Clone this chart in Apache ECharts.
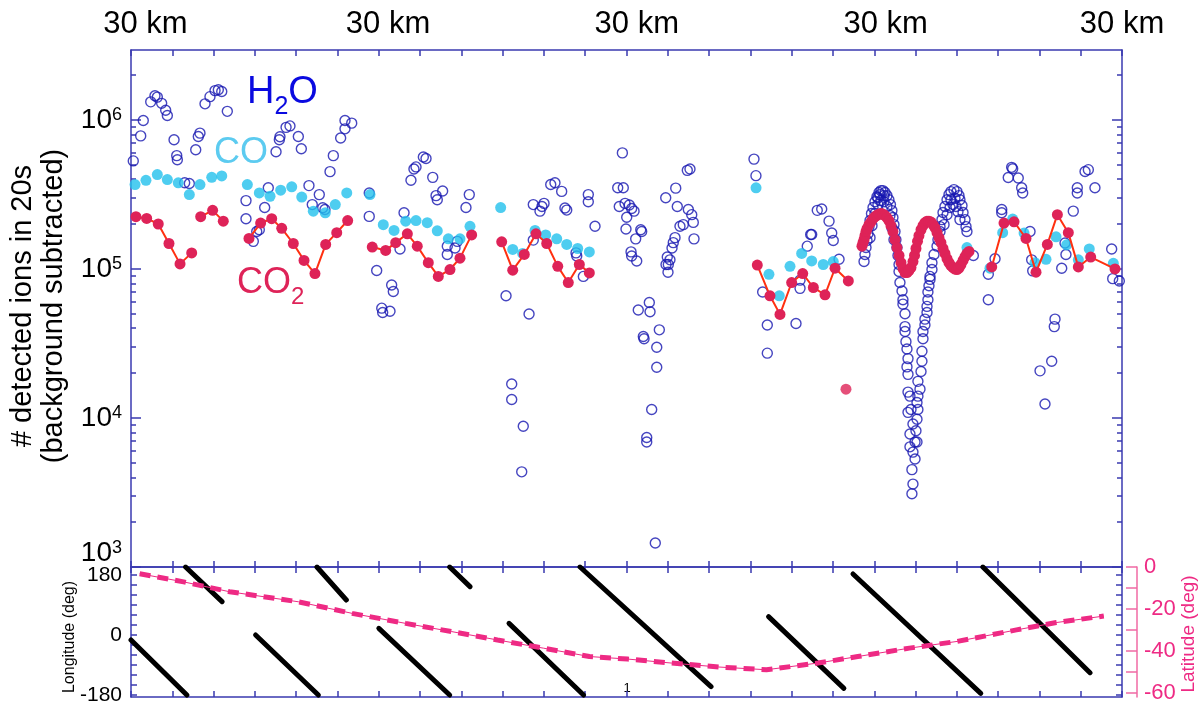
<!DOCTYPE html>
<html><head><meta charset="utf-8">
<script src="https://cdn.jsdelivr.net/npm/echarts@6/dist/echarts.min.js"></script>
<style>html,body{margin:0;padding:0;background:#fff}#c{width:1202px;height:706px}</style>
</head><body><div id="c"></div>
<script>
// ---------- DATA (x = hours, y = detected ions / degrees) ----------
const topLabelHours = [1.4, 24.9, 49.0, 73.1, 96];
const topLabelText = '30 km';
const decadeTicks = [1e3, 1e4, 1e5, 1e6];
const minorLogTicks = [2e3,3e3,4e3,5e3,6e3,7e3,8e3,9e3,2e4,3e4,4e4,5e4,6e4,7e4,8e4,9e4,2e5,3e5,4e5,5e5,6e5,7e5,8e5,9e5,2e6];
const hourTicks = [0,4,8,12,16,20,24,28,32,36,40,44,48,52,56,60,64,68,72,76,80,84,88,92,96];
const lonTicks = [-180,-150,-120,-90,-60,-30,0,30,60,90,120,150,180];
const lonLabels = [-180, 0, 180];
const latTicks = [0,-10,-20,-30,-40,-50,-60];
const latLabels = [0,-20,-40,-60];

const h2oPass1 = [[0.22,5.3e5],[0.94,7.8e5],[1.19,9.9e5],[1.91,1.32e6],[2.32,1.45e6],[2.55,1.42e6],[2.97,1.29e6],[3.36,1.16e6],[3.52,1.07e6],[4.17,7.35e5],[4.43,5.75e5],[4.49,5.4e5],[5.2,3.78e5],[5.65,3.74e5],[6.27,6.3e5],[6.52,7.73e5],[6.68,8.14e5],[7.17,1.28e6],[7.65,1.43e6],[8.14,1.57e6],[8.46,1.59e6],[8.79,1.55e6],[9.33,1.14e6]];
const h2oPass2 = [[11.14,2.87e5],[11.14,2.17e5],[11.85,1.53e5],[12.18,1.78e5],[12.43,1.83e5],[12.95,2.58e5],[13.3,3.5e5],[14.05,6.1e5],[14.37,7.35e5],[14.43,7.7e5],[15.02,8.9e5],[15.4,9.1e5],[16.21,7.73e5],[16.5,6.4e5],[17.24,3.62e5],[17.56,2.7e5],[18.24,3.15e5],[18.57,2.57e5],[18.79,2.5e5],[19.28,4.49e5],[19.6,5.75e5],[20.31,7.55e5],[20.73,8.7e5],[20.73,9.9e5],[21.38,9.5e5]];
const h2oPass3 = [[23.08,3.23e5],[23.08,2.25e5],[23.8,9.75e4],[24.29,5.45e4],[24.38,5.1e4],[25.09,5.2e4],[25.25,7.8e4],[25.41,7.05e4],[26.06,1.36e5],[26.45,2.38e5],[27.12,3.93e5],[27.41,4.68e5],[27.61,4.83e5],[28.32,5.63e5],[28.58,5.5e5],[29.23,4.11e5],[29.55,3.1e5],[29.67,2.91e5],[30.19,3.33e5],[30.64,1.42e5],[30.64,1.25e5],[31.39,1.38e5],[31.61,1.53e5],[32.45,2.58e5],[32.77,3.15e5]];
const h2oPass4 = [[36.33,6.6e4],[36.88,1.69e4],[36.88,1.33e4],[38.0,8.8e3],[37.85,4.35e3],[38.56,4.98e4],[38.97,2.7e5],[38.97,1.56e5],[39.62,2.44e5],[39.81,2.62e5],[40.01,2.75e5],[40.66,3.68e5],[41.07,3.78e5],[41.72,3.31e5],[42.04,2.56e5],[42.21,2.48e5],[43.18,1.22e5],[43.11,1.28e5],[43.82,8.9e4],[44.3,3.15e5],[44.3,2.82e5],[44.95,1.93e5]];
const h2oPass5 = [[47.6,6.0e5],[47.15,3.5e5],[47.69,3.5e5],[47.3,2.62e5],[47.86,2.75e5],[48.27,2.68e5],[48.5,2.54e5],[48.73,2.44e5],[48.02,2.22e5],[47.95,1.85e5],[49.38,1.83e5],[49.47,1.78e5],[48.89,1.59e5],[48.44,1.3e5],[48.5,1.22e5],[48.99,1.13e5],[50.21,5.95e4],[50.28,5.16e4],[49.14,5.3e4],[49.63,3.52e4],[49.7,3.4e4],[51.18,3.9e4],[50.93,2.98e4],[50.93,2.19e4],[50.44,1.14e4],[49.96,7.4e3],[49.96,6.9e3],[50.79,1.45e3],[52.77,3.48e5],[51.8,3.0e5],[52.92,2.62e5],[53.89,4.58e5],[54.15,4.68e5],[53.99,2.5e5],[54.32,2.31e5],[54.47,2.05e5],[53.18,1.93e5],[53.5,1.98e5],[54.54,1.59e5],[52.7,1.62e5],[52.53,1.5e5],[52.41,1.38e5],[51.95,1.2e5],[52.21,1.15e5],[52.05,1.07e5],[51.83,1.07e5],[52.02,9.5e4]];
const h2oPass6 = [[60.35,5.45e5],[60.54,4.22e5],[61.19,7.0e4],[61.64,4.2e4],[61.64,2.72e4],[64.42,4.3e4],[64.81,8.4e4],[64.81,7.4e4],[65.51,1.42e5],[65.84,1.7e5],[65.94,1.7e5],[66.48,2.47e5],[66.91,2.52e5],[67.62,2.09e5],[67.88,1.74e5],[68.03,1.55e5],[68.59,1.16e5]];
const h2oPass7 = [[71.01,1.12e5],[71.1,1.25e5],[71.2,1.39e5],[71.3,1.55e5],[71.39,1.72e5],[71.49,1.92e5],[71.59,2.11e5],[71.73,2.35e5],[71.88,2.58e5],[72.07,2.82e5],[72.26,3.05e5],[72.46,3.25e5],[72.65,3.35e5],[72.84,3.35e5],[73.04,3.25e5],[73.23,3.1e5],[73.42,2.91e5],[73.57,2.7e5],[73.71,2.46e5],[73.81,2.21e5],[73.91,1.98e5],[74.01,1.78e5],[74.1,1.57e5],[74.2,1.39e5],[74.3,1.23e5],[74.4,1.07e5],
 [71.59,1.62e5],[71.78,1.95e5],[72.07,2.35e5],[72.36,2.7e5],[72.65,2.87e5],[72.94,2.82e5],[73.23,2.62e5],[73.52,2.28e5],[73.71,1.89e5],[73.91,1.57e5],[72.55,3.15e5],[72.94,3.1e5],[72.36,3.0e5],
 [74.4,9.6e4],[74.49,8.1e4],[74.69,7.1e4],[74.78,6.2e4],[74.78,5.8e4],[74.98,5.0e4],[74.98,4.1e4],[74.98,3.8e4],[75.07,3.25e4],[75.17,2.9e4],[75.27,2.5e4],[75.17,2.2e4],[75.27,1.96e4],[75.27,1.49e4],[75.46,1.4e4],[75.56,1.14e4],[75.27,1.09e4],[75.75,9.1e3],[75.46,7.8e3],[75.46,6.4e3],[75.95,6.9e3],[75.75,5.9e3],[75.95,5.3e3],[75.65,4.5e3],[75.75,3.6e3],[75.65,3.1e3],
 [76.14,6.9e3],[76.04,8.2e3],[76.14,9.8e3],[76.23,1.14e4],[76.14,1.27e4],[76.23,1.4e4],[76.43,1.56e4],[76.23,1.76e4],[76.53,2.05e4],[76.62,2.4e4],[76.62,2.8e4],[76.72,3.4e4],[76.72,3.8e4],[76.91,4.2e4],[76.91,4.6e4],[77.11,5.1e4],[77.11,5.6e4],[77.2,6.2e4],[77.2,7.0e4],[77.3,7.7e4],[77.4,8.5e4],[77.4,8.9e4],[77.59,9.9e4],[77.59,1.1e5],[77.79,1.25e5],[78.08,1.42e5],[78.17,1.57e5],[78.37,1.78e5],[78.37,1.92e5],[78.56,2.14e5],[78.66,2.39e5],[78.85,2.62e5],[79.05,2.91e5],[79.24,3.15e5],[79.43,3.3e5],[79.72,3.4e5],[80.01,3.3e5],[80.21,3.1e5],[80.3,2.91e5],[80.5,2.66e5],[80.6,2.39e5],[80.79,2.14e5],[80.89,1.92e5],[80.98,1.78e5],
 [78.76,1.98e5],[79.05,2.31e5],[79.34,2.58e5],[79.63,2.7e5],[79.92,2.62e5],[80.11,2.42e5],[80.3,2.14e5],[79.43,2.91e5],[79.82,2.98e5]];
const h2oPass8 = [[81.6,1.23e5],[83.05,9.2e4],[83.05,6.2e4],[83.7,1.17e5],[84.35,2.5e5],[84.35,2.38e5],[84.98,4.1e5],[85.31,4.8e5],[85.41,4.7e5],[85.95,4.07e5],[86.28,3.5e5],[86.38,3.23e5],[87.09,1.78e5],[87.25,1.15e5],[87.35,9.7e4],[89.51,4.6e4],[89.44,4.1e4],[89.19,2.4e4],[88.06,2.07e4],[88.54,1.24e4],[90.16,1.01e5],[90.57,1.25e5],[90.48,1.49e5],[91.28,2.44e5],[91.67,3.5e5],[91.67,3.23e5],[92.42,4.5e5],[92.74,4.63e5],[93.38,3.5e5],[95.0,1.36e5],[95.1,8.6e4],[95.74,8.3e4]];

const coValues = [[0.39,3.68e5],[1.45,3.93e5],[2.55,4.29e5],[3.52,3.97e5],[4.58,3.78e5],[5.65,3.15e5],[6.68,3.68e5],[7.82,4.11e5],[8.79,4.2e5],
 [11.27,3.68e5],[12.43,3.23e5],[13.47,3.07e5],[14.5,3.37e5],[15.57,3.55e5],[16.54,3.03e5],[17.66,2.44e5],[18.82,2.38e5],[19.79,2.7e5],[20.9,3.23e5],
 [23.15,3.15e5],[24.44,1.98e5],[25.48,1.81e5],[26.61,2.09e5],[27.61,2.11e5],[28.7,2.04e5],[29.67,1.8e5],[30.74,1.59e5],[31.87,1.59e5],[32.84,1.93e5],
 [35.81,2.58e5],[36.98,1.35e5],[37.94,1.27e5],[39.14,1.81e5],[40.17,1.69e5],[41.24,1.59e5],[42.21,1.46e5],[43.27,1.37e5],[44.4,1.3e5],
 [60.55,3.5e5],[61.8,9.2e4],[62.8,6.6e4],[63.84,1.04e5],[64.97,1.27e5],[65.94,1.13e5],[67.06,1.07e5],[68.03,1.12e5],
 [80.98,1.39e5],
 [83.21,1.01e5],[84.44,1.75e5],[85.41,2.16e5],[86.51,1.74e5],[87.57,1.1e5],[88.64,1.16e5],[89.61,1.64e5],[90.64,1.45e5],[91.77,1.15e5],[92.83,1.36e5],[95.16,1.09e5]];

const co2Pass1a = [[0.48,2.24e5],[1.52,2.18e5],[2.64,2.0e5],[3.68,1.48e5],[4.75,1.08e5],[5.88,1.28e5]];
const co2Pass1b = [[6.75,2.24e5],[7.91,2.47e5],[8.94,2.09e5]];
const co2Pass2 = [[11.43,1.6e5],[12.56,2.03e5],[13.63,2.17e5],[14.6,1.87e5],[15.72,1.48e5],[16.76,1.14e5],[17.82,9.3e4],[18.86,1.46e5],[19.93,1.75e5],[20.99,2.11e5]];
const co2Pass3 = [[23.37,1.4e5],[24.67,1.33e5],[25.64,1.5e5],[26.77,1.72e5],[27.73,1.42e5],[28.8,1.1e5],[29.77,8.9e4],[30.9,9.9e4],[31.87,1.18e5],[33.0,1.69e5]];
const co2Pass4 = [[35.91,1.52e5],[36.98,9.8e4],[38.1,1.25e5],[39.23,1.72e5],[40.27,1.48e5],[41.34,1.04e5],[42.36,8.1e4],[43.43,1.07e5],[44.4,9.4e4]];
const co2Pass6 = [[60.67,1.06e5],[61.9,6.6e4],[62.87,4.95e4],[64.0,8.1e4],[65.07,9.3e4],[66.1,7.5e4],[67.23,6.7e4],[68.2,1.01e5],[69.49,8.3e4]];
const co2Pass7 = [[70.81,1.42e5],[70.91,1.5e5],[71.01,1.57e5],[71.1,1.67e5],[71.2,1.78e5],[71.3,1.86e5],[71.49,1.98e5],[71.69,2.07e5],[71.88,2.17e5],[72.07,2.24e5],[72.26,2.29e5],[72.46,2.33e5],[72.65,2.35e5],[72.84,2.33e5],[73.04,2.28e5],[73.23,2.21e5],[73.42,2.11e5],[73.62,1.95e5],[73.81,1.78e5],[74.01,1.57e5],[74.2,1.39e5],[74.4,1.23e5],[74.59,1.1e5],[74.78,1.005e5],[74.98,9.45e4],[75.17,9.45e4],[75.36,9.75e4],[75.56,1.02e5],[75.75,1.12e5],[75.9,1.23e5],[76.04,1.37e5],[76.19,1.53e5],[76.33,1.67e5],[76.53,1.83e5],[76.72,1.95e5],[76.91,2.04e5],[77.11,2.09e5],[77.3,2.09e5],[77.5,2.06e5],[77.69,1.98e5],[77.88,1.89e5],[78.08,1.75e5],[78.27,1.62e5],[78.46,1.5e5],[78.66,1.37e5],[78.85,1.27e5],[79.05,1.17e5],[79.24,1.1e5],[79.43,1.05e5],[79.63,1.02e5],[79.82,9.97e4],[80.01,9.9e4],[80.21,1.01e5],[80.4,1.07e5],[80.6,1.14e5],[80.79,1.21e5],[80.98,1.27e5],[81.18,1.31e5]];
const co2Pass8 = [[83.38,1.03e5],[84.57,2.03e5],[85.54,2.07e5],[86.7,1.6e5],[87.67,9.5e4],[88.77,1.46e5],[89.74,2.31e5],[90.8,1.75e5],[91.77,1.03e5],[92.97,1.2e5],[95.32,1.0e5]];
const co2Isolated = [[69.26,1.56e4]];

const lonPasses = [
 [[0,-15],[5.41,-180]], [[5.29,204],[8.82,100]], [[12.07,0],[18.15,-180]], [[18.01,204],[20.86,105]],
 [[24.01,20],[30.87,-180]], [[30.87,204],[32.84,145]], [[36.62,35],[43.84,-180]], [[43.5,204],[56.19,-155]],
 [[61.76,55],[69.06,-160]], [[69.94,183],[82.32,-175]], [[82.52,204],[92.9,-113]]
];
const latitudeValues = [[0.84,-3.2],[5.1,-7.1],[9.55,-11.8],[16.23,-16.6],[21.41,-22.1],[26.61,-26.9],[31.06,-30.8],[35.5,-34.8],[39.95,-38.7],[44.41,-42.7],[48.11,-43.9],[52.34,-45.8],[56.95,-47.7],[61.56,-49.0],[66.55,-45.8],[70.4,-42.7],[75.4,-38.7],[80.02,-35.5],[85.78,-30.0],[89.63,-26.5],[94.24,-23.4]];

// ---------- STYLE ----------
const FONT = '"Liberation Sans", Arial, sans-serif';
const AXIS_BLUE = '#3a3ab0';
const PINK = '#ee2a84';
const PINK_AXIS = '#f06aa4';
const H2O_C = '#1616b0';
const CO_C = '#22c0ec';
const CO2_C = '#de2358';
const CO2_LINE = '#ff3010';

const chart = echarts.init(document.getElementById('c'), null, {renderer: 'canvas'});

function hourAxis(gridIndex, position, showLabels) {
  return {
    type: 'value', gridIndex, position, min: 0, max: 96,
    axisLine: {show: true, onZero: false, lineStyle: {color: AXIS_BLUE, width: 1.5}},
    axisTick: {show: true, inside: true, length: 6, customValues: hourTicks, lineStyle: {color: AXIS_BLUE, width: 1.5}},
    splitLine: {show: false},
    axisLabel: showLabels ? {
      show: true, customValues: topLabelHours, formatter: () => topLabelText,
      color: '#000', fontSize: 31, fontFamily: FONT, margin: 10
    } : {show: false}
  };
}
function logAxis(position, major, show) {
  return {
    type: 'log', gridIndex: 0, position, min: 1000, max: 2.94e6, logBase: 10,
    axisLine: {show: show, onZero: false, lineStyle: {color: AXIS_BLUE, width: 1.5}},
    axisTick: {show: true, inside: true, length: major ? 10 : 5, customValues: major ? decadeTicks : minorLogTicks,
      lineStyle: {color: AXIS_BLUE, width: 1.5}},
    splitLine: {show: false},
    axisLabel: (major && position === 'left') ? {
      show: true, customValues: decadeTicks, margin: 9, verticalAlignMinLabel: 'bottom',
      formatter: v => '{b|10}{s|' + Math.round(Math.log10(v)) + '}',
      rich: {b: {fontSize: 28, fontFamily: FONT, color: '#000'}, s: {fontSize: 18, fontFamily: FONT, color: '#000', verticalAlign: 'top'}}
    } : {show: false}
  };
}

const series = [];
const h2oAll = [].concat(h2oPass1, h2oPass2, h2oPass3, h2oPass4, h2oPass5, h2oPass6, h2oPass7, h2oPass8);
series.push({type: 'scatter', name: 'H2O', xAxisIndex: 0, yAxisIndex: 0, data: h2oAll, symbol: 'circle', symbolSize: 10,
  itemStyle: {color: 'rgba(0,0,0,0)', borderColor: H2O_C, borderWidth: 1.4}, z: 2, silent: true});
series.push({type: 'scatter', name: 'CO', xAxisIndex: 0, yAxisIndex: 0, data: coValues, symbol: 'circle', symbolSize: 11,
  itemStyle: {color: CO_C}, z: 3, silent: true});
[co2Pass1a, co2Pass1b, co2Pass2, co2Pass3, co2Pass4, co2Pass6, co2Pass7, co2Pass8].forEach(d => {
  series.push({type: 'line', name: 'CO2', xAxisIndex: 0, yAxisIndex: 0, data: d, symbol: 'circle', symbolSize: 11, showSymbol: true,
    lineStyle: {color: CO2_LINE, width: 2}, itemStyle: {color: CO2_C}, z: 4, silent: true});
});
series.push({type: 'scatter', name: 'CO2', xAxisIndex: 0, yAxisIndex: 0, data: co2Isolated, symbol: 'circle', symbolSize: 11,
  itemStyle: {color: CO2_C}, z: 4, silent: true});
lonPasses.forEach(d => {
  series.push({type: 'line', xAxisIndex: 2, yAxisIndex: 4, data: d, symbol: 'none', lineStyle: {color: '#000', width: 5, cap: 'round'}, z: 3, silent: true});
});
series.push({type: 'line', xAxisIndex: 2, yAxisIndex: 6, data: latitudeValues, symbol: 'none', smooth: false,
  lineStyle: {color: PINK, width: 1}, z: 4, silent: true});
series.push({type: 'line', xAxisIndex: 2, yAxisIndex: 6, data: latitudeValues, symbol: 'none', smooth: false,
  lineStyle: {color: PINK, width: 5, type: [11, 7]}, z: 4, silent: true});

const option = {
  animation: false,
  backgroundColor: '#fff',
  textStyle: {fontFamily: FONT},
  grid: [
    {left: 131, right: 80, top: 50, height: 517, containLabel: false},
    {left: 131, right: 80, top: 567, height: 130, containLabel: false}
  ],
  xAxis: [
    hourAxis(0, 'bottom', false),
    hourAxis(0, 'top', true),
    hourAxis(1, 'bottom', false),
    hourAxis(1, 'top', false)
  ],
  yAxis: [
    logAxis('left', true, true),
    logAxis('left', false, false),
    logAxis('right', true, true),
    logAxis('right', false, false),
    {type: 'value', gridIndex: 1, position: 'left', min: -186, max: 204,
      axisLine: {show: true, onZero: false, lineStyle: {color: AXIS_BLUE, width: 1.5}},
      axisTick: {show: true, inside: true, length: 6, customValues: lonTicks, lineStyle: {color: AXIS_BLUE, width: 1.5}},
      splitLine: {show: false},
      axisLabel: {show: true, customValues: lonLabels, color: '#000', fontSize: 21, fontFamily: FONT, margin: 9}},
    {type: 'value', gridIndex: 1, position: 'right', min: -186, max: 204,
      axisLine: {show: true, onZero: false, lineStyle: {color: AXIS_BLUE, width: 1.5}},
      axisTick: {show: true, inside: true, length: 6, customValues: lonTicks, lineStyle: {color: AXIS_BLUE, width: 1.5}},
      splitLine: {show: false}, axisLabel: {show: false}},
    {type: 'value', gridIndex: 1, position: 'right', offset: 15, min: -62, max: 0,
      axisLine: {show: true, onZero: false, lineStyle: {color: PINK_AXIS, width: 1.5}},
      axisTick: {show: true, inside: true, length: 11, customValues: latTicks, lineStyle: {color: PINK_AXIS, width: 1.5}},
      splitLine: {show: false},
      axisLabel: {show: true, customValues: latLabels, color: PINK, fontSize: 22, fontFamily: FONT, margin: 7}}
  ],
  graphic: [
    {type: 'text', x: 23, y: 306, rotation: Math.PI / 2, silent: true,
      style: {text: '# detected ions in 20s', font: '29px ' + FONT, fill: '#000', align: 'center', verticalAlign: 'middle'}},
    {type: 'text', x: 54, y: 306, rotation: Math.PI / 2, silent: true,
      style: {text: '(background subtracted)', font: '29px ' + FONT, fill: '#000', align: 'center', verticalAlign: 'middle'}},
    {type: 'text', x: 70, y: 637, rotation: Math.PI / 2, silent: true,
      style: {text: 'Longitude (deg)', font: '16px ' + FONT, fill: '#000', align: 'center', verticalAlign: 'middle'}},
    {type: 'text', x: 1189, y: 634, rotation: Math.PI / 2, silent: true,
      style: {text: 'Latitude (deg)', font: '19px ' + FONT, fill: PINK, align: 'center', verticalAlign: 'middle'}},
    {type: 'text', x: 247, y: 93, silent: true,
      style: {text: '{a|H}{b|2}{a|O}', align: 'left', verticalAlign: 'middle',
        rich: {a: {fontSize: 38, fontFamily: FONT, fill: '#0a0ae0', color: '#0a0ae0'}, b: {fontSize: 25, fontFamily: FONT, fill: '#0a0ae0', color: '#0a0ae0', verticalAlign: 'bottom', padding: [0, 0, -8, 0]}}}},
    {type: 'text', x: 214, y: 153, silent: true,
      style: {text: 'CO', font: '36px ' + FONT, fill: '#5ccbf0', align: 'left', verticalAlign: 'middle'}},
    {type: 'text', x: 237, y: 283, silent: true,
      style: {text: '{a|CO}{b|2}', align: 'left', verticalAlign: 'middle',
        rich: {a: {fontSize: 36, fontFamily: FONT, fill: CO2_C, color: CO2_C}, b: {fontSize: 24, fontFamily: FONT, fill: CO2_C, color: CO2_C, verticalAlign: 'bottom', padding: [0, 0, -8, 0]}}}},
    {type: 'text', x: 627, y: 688, silent: true,
      style: {text: '1', font: '13px ' + FONT, fill: '#000', align: 'center', verticalAlign: 'middle'}}
  ],
  series
};
chart.setOption(option);
</script>
</body></html>
